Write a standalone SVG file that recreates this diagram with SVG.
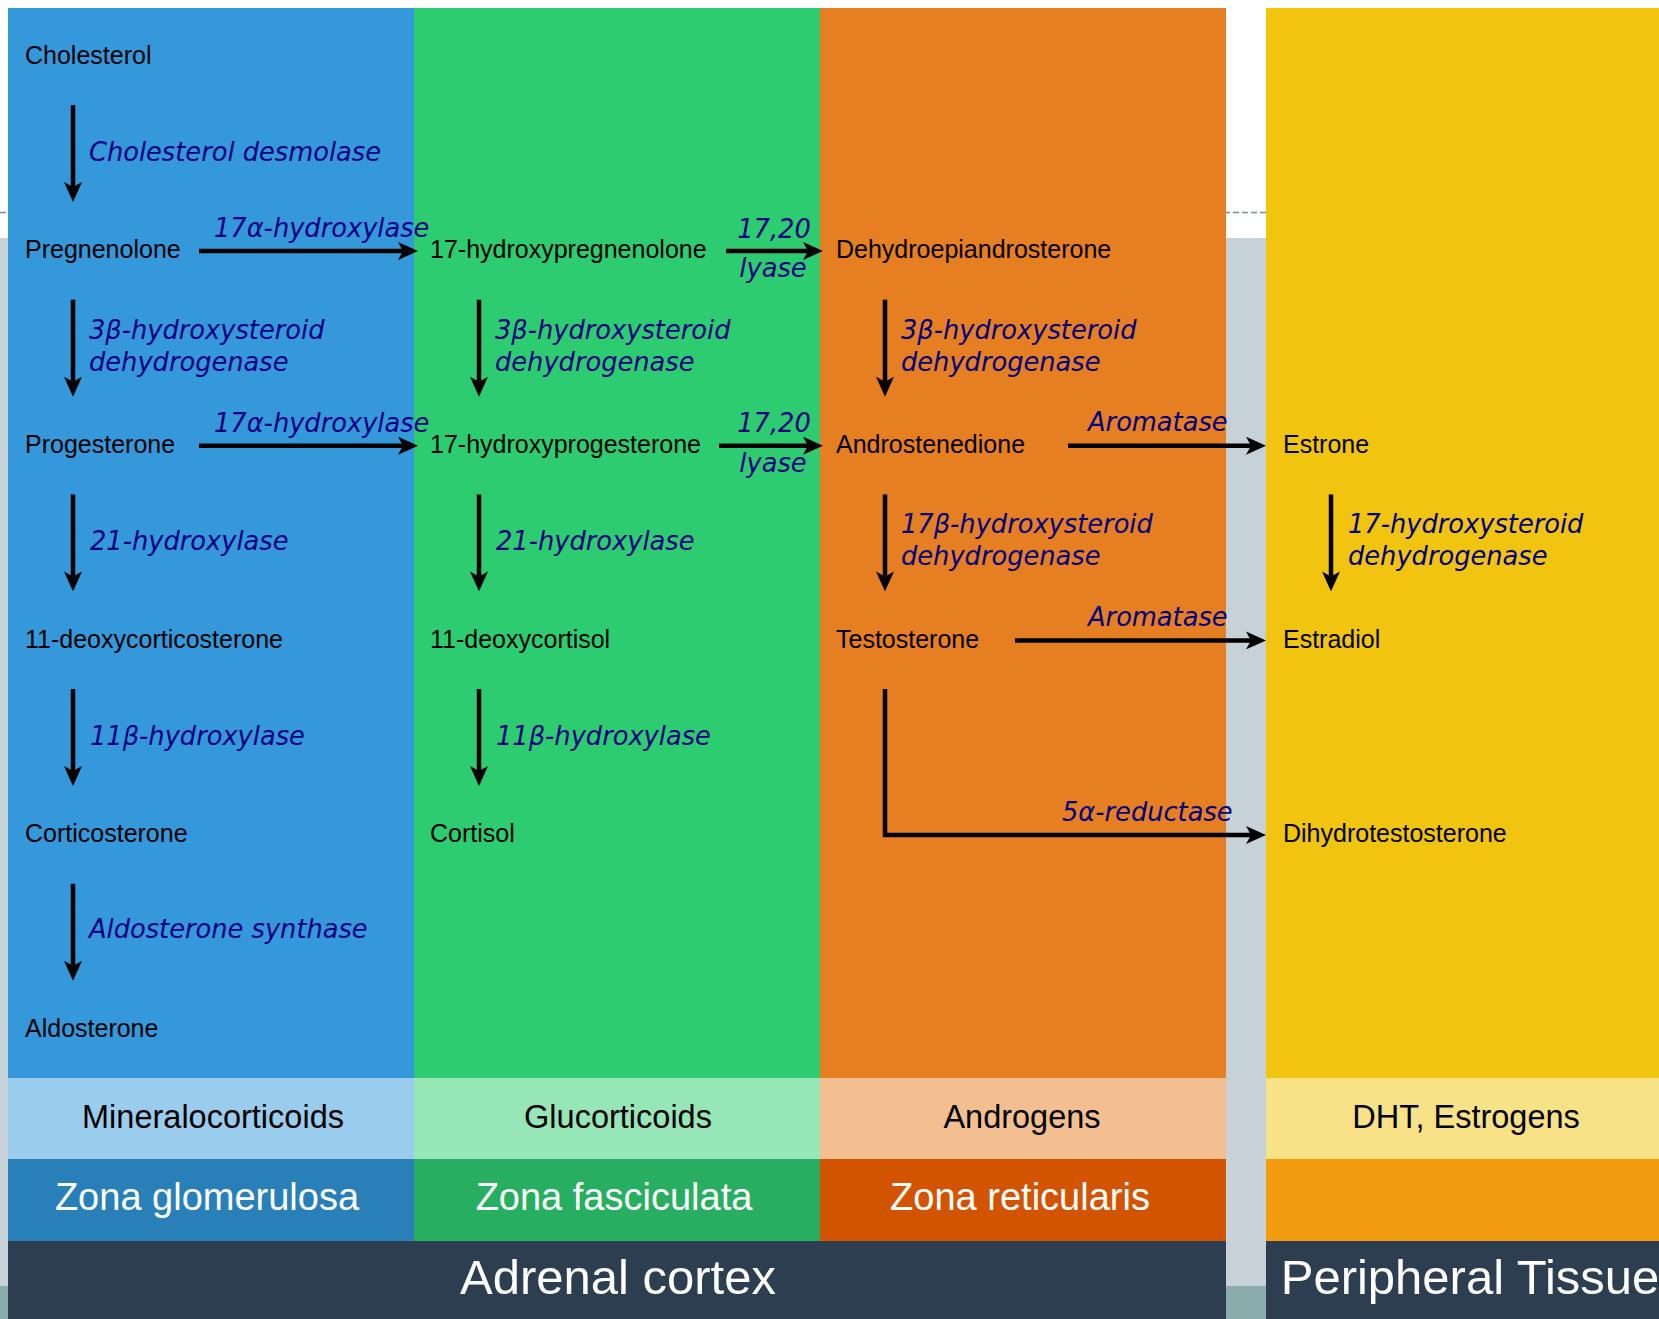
<svg xmlns="http://www.w3.org/2000/svg" width="1659" height="1319" viewBox="0 0 1659 1319">
<style>
.n{font-family:"Liberation Sans",Arial,sans-serif;font-size:25px;fill:#000}
.e{font-family:"DejaVu Sans",Verdana,sans-serif;font-style:italic;font-size:25.7px;fill:#000080}
.cat{font-family:"Liberation Sans",Arial,sans-serif;font-size:32.5px;fill:#000;text-anchor:middle}
.zone{font-family:"Liberation Sans",Arial,sans-serif;font-size:38px;fill:#fff;text-anchor:middle}
.big{font-family:"Liberation Sans",Arial,sans-serif;font-size:49px;fill:#fff;text-anchor:middle}
.a{fill:none;stroke:#000;stroke-width:4.5;marker-end:url(#ah)}
</style>
<defs>
<marker id="ah" markerUnits="userSpaceOnUse" viewBox="0 -9 20 18" markerWidth="20" markerHeight="18" refX="5" refY="0" orient="auto">
<path d="M0,-9 L20,0 L0,9 L5,0 Z" fill="#000"/>
</marker>
</defs>
<g id="background">
<rect x="0" y="0" width="1659" height="1319" fill="#fff"/>
<rect x="0" y="238" width="1659" height="1048" fill="#c7d1d8"/>
<rect x="0" y="1286" width="1659" height="33" fill="#8aacac"/>
<line x1="0" y1="212.5" x2="1659" y2="212.5" stroke="#7f8c8d" stroke-width="1.5" stroke-dasharray="6,3"/>
<rect x="8" y="8" width="406" height="1070" fill="#3498db"/>
<rect x="414" y="8" width="406" height="1070" fill="#2ecc71"/>
<rect x="820" y="8" width="406" height="1070" fill="#e67e22"/>
<rect x="1266" y="8" width="406" height="1070" fill="#f1c40f"/>
<rect x="8" y="1078" width="406" height="81" fill="#9acced"/>
<rect x="414" y="1078" width="406" height="81" fill="#97e6b8"/>
<rect x="820" y="1078" width="406" height="81" fill="#f3bf91"/>
<rect x="1266" y="1078" width="406" height="81" fill="#f8e287"/>
<rect x="8" y="1159" width="406" height="82" fill="#2980b9"/>
<rect x="414" y="1159" width="406" height="82" fill="#27ae60"/>
<rect x="820" y="1159" width="406" height="82" fill="#d35400"/>
<rect x="1266" y="1159" width="406" height="82" fill="#f39c12"/>
<rect x="8" y="1241" width="1218" height="78" fill="#2c3e50"/>
<rect x="1266" y="1241" width="406" height="78" fill="#2c3e50"/>
</g>
<g id="labels-bottom">
<text class="cat" x="213" y="1128">Mineralocorticoids</text>
<text class="cat" x="618" y="1128">Glucorticoids</text>
<text class="cat" x="1022" y="1128">Androgens</text>
<text class="cat" x="1466" y="1128">DHT, Estrogens</text>
<text class="zone" x="207" y="1210">Zona glomerulosa</text>
<text class="zone" x="614" y="1210">Zona fasciculata</text>
<text class="zone" x="1020" y="1210">Zona reticularis</text>
<text class="big" x="618" y="1294">Adrenal cortex</text>
<text class="big" x="1470" y="1294">Peripheral Tissue</text>
</g>
<g id="connectors">
<line class="a" x1="73" y1="105" x2="73" y2="187"/>
<line class="a" x1="73" y1="299.7" x2="73" y2="381.7"/>
<line class="a" x1="73" y1="494.4" x2="73" y2="576.4"/>
<line class="a" x1="73" y1="689.1" x2="73" y2="771.1"/>
<line class="a" x1="73" y1="883.8" x2="73" y2="965.8"/>
<line class="a" x1="479" y1="299.7" x2="479" y2="381.7"/>
<line class="a" x1="479" y1="494.4" x2="479" y2="576.4"/>
<line class="a" x1="479" y1="689.1" x2="479" y2="771.1"/>
<line class="a" x1="885" y1="299.7" x2="885" y2="381.7"/>
<line class="a" x1="885" y1="494.4" x2="885" y2="576.4"/>
<line class="a" x1="1331" y1="494.4" x2="1331" y2="576.4"/>
<line class="a" x1="199" y1="251" x2="403" y2="251"/>
<line class="a" x1="199" y1="445.7" x2="403" y2="445.7"/>
<line class="a" x1="726" y1="251" x2="808" y2="251"/>
<line class="a" x1="719" y1="445.7" x2="808" y2="445.7"/>
<line class="a" x1="1068" y1="445.7" x2="1251" y2="445.7"/>
<line class="a" x1="1015" y1="640.4" x2="1251" y2="640.4"/>
<path class="a" d="M885,689.1 V835 H1251"/>
</g>
<g id="enzymes">
<text class="e" x="89" y="161">Cholesterol desmolase</text>
<text class="e" x="89" y="339.3">3β-hydroxysteroid</text>
<text class="e" x="89" y="371">dehydrogenase</text>
<text class="e" x="90" y="550">21-hydroxylase</text>
<text class="e" x="90" y="745">11β-hydroxylase</text>
<text class="e" x="89" y="938.3">Aldosterone synthase</text>
<text class="e" x="495" y="339.3">3β-hydroxysteroid</text>
<text class="e" x="495" y="371">dehydrogenase</text>
<text class="e" x="496" y="550">21-hydroxylase</text>
<text class="e" x="496" y="745">11β-hydroxylase</text>
<text class="e" x="901" y="339.3">3β-hydroxysteroid</text>
<text class="e" x="901" y="371">dehydrogenase</text>
<text class="e" x="901" y="533.3">17β-hydroxysteroid</text>
<text class="e" x="901" y="565">dehydrogenase</text>
<text class="e" x="1348" y="533.3">17-hydroxysteroid</text>
<text class="e" x="1348" y="565">dehydrogenase</text>
<text class="e" x="214" y="237">17α-hydroxylase</text>
<text class="e" x="214" y="431.5">17α-hydroxylase</text>
<text class="e" x="774" y="238" text-anchor="middle">17,20</text>
<text class="e" x="773" y="277" text-anchor="middle">lyase</text>
<text class="e" x="774" y="432" text-anchor="middle">17,20</text>
<text class="e" x="773" y="472" text-anchor="middle">lyase</text>
<text class="e" x="1088" y="431">Aromatase</text>
<text class="e" x="1088" y="625.5">Aromatase</text>
<text class="e" x="1062" y="821">5α-reductase</text>
</g>
<g id="node-cholesterol"><text class="n" x="25" y="63.5">Cholesterol</text></g>
<g id="node-pregnenolone"><text class="n" x="25" y="258">Pregnenolone</text></g>
<g id="node-progesterone"><text class="n" x="25" y="453">Progesterone</text></g>
<g id="node-11-deoxycorticosterone"><text class="n" x="25" y="647.7">11-deoxycorticosterone</text></g>
<g id="node-corticosterone"><text class="n" x="25" y="842.3">Corticosterone</text></g>
<g id="node-aldosterone"><text class="n" x="25" y="1037">Aldosterone</text></g>
<g id="node-17-hydroxypregnenolone"><text class="n" x="430" y="258">17-hydroxypregnenolone</text></g>
<g id="node-17-hydroxyprogesterone"><text class="n" x="430" y="453">17-hydroxyprogesterone</text></g>
<g id="node-11-deoxycortisol"><text class="n" x="430" y="647.7">11-deoxycortisol</text></g>
<g id="node-cortisol"><text class="n" x="430" y="842.3">Cortisol</text></g>
<g id="node-dhea"><text class="n" x="836" y="258">Dehydroepiandrosterone</text></g>
<g id="node-androstenedione"><text class="n" x="836" y="453">Androstenedione</text></g>
<g id="node-testosterone"><text class="n" x="836" y="647.7">Testosterone</text></g>
<g id="node-estrone"><text class="n" x="1283" y="453">Estrone</text></g>
<g id="node-estradiol"><text class="n" x="1283" y="647.7">Estradiol</text></g>
<g id="node-dht"><text class="n" x="1283" y="842.3">Dihydrotestosterone</text></g>
</svg>
